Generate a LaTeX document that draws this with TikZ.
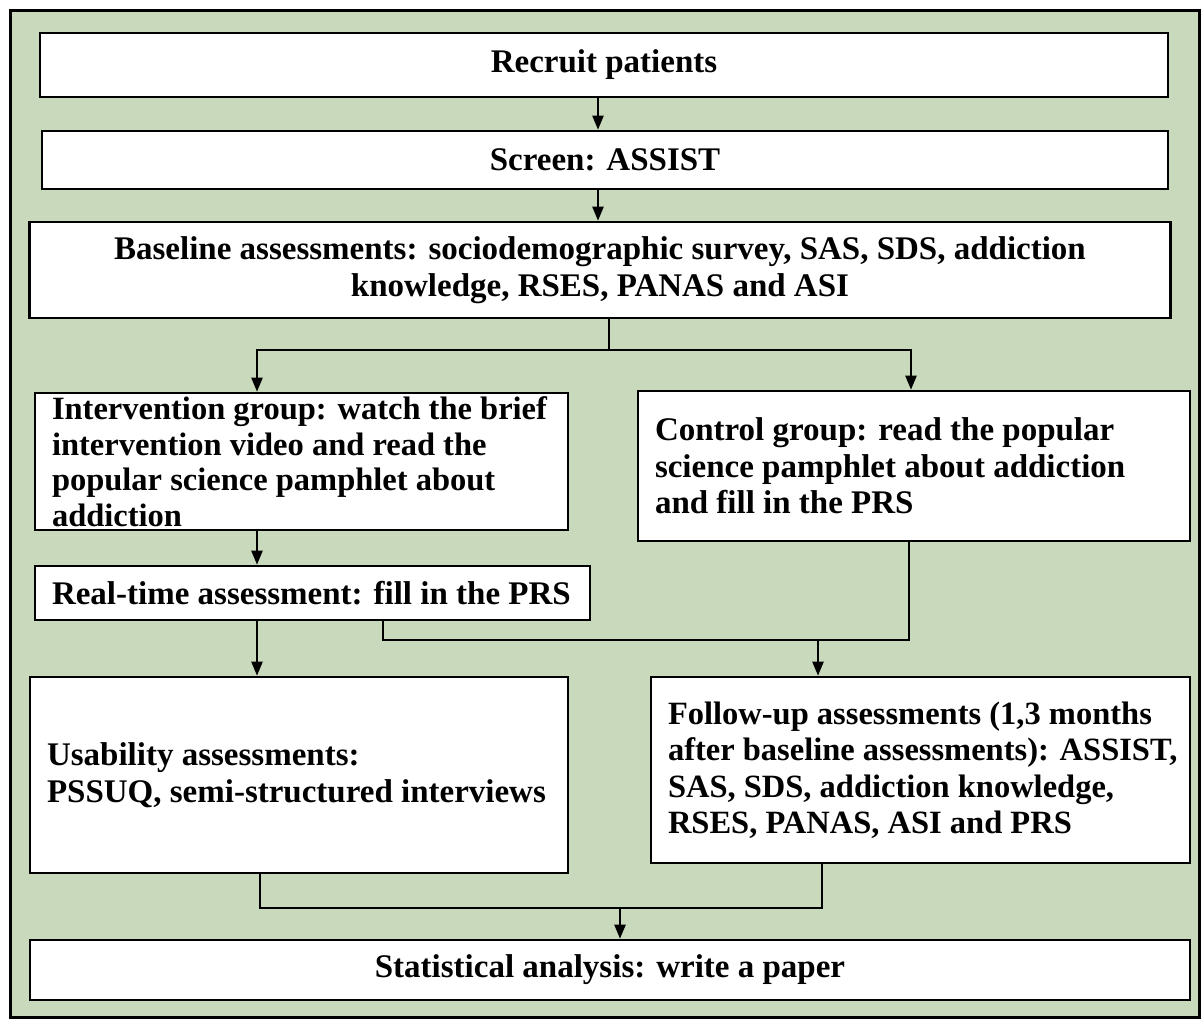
\documentclass[tikz,border=0pt]{standalone}
\usepackage{fontspec}
\setmainfont{Liberation Serif}
\usetikzlibrary{arrows.meta}
\definecolor{bggreen}{HTML}{C9D9BB}
\newcommand{\tline}[1]{\mbox{#1}}
\tikzset{
  box/.style={draw=black, line width=2.6pt, fill=white, inner sep=0pt, font=\bfseries\fontsize{33}{36.5}\selectfont},
  lbox/.style={box, align=left},
  cbox/.style={box, align=center},
  conn/.style={line width=2.2pt, line cap=rect},
  arr/.style={conn, -{Triangle[length=14pt,width=11pt]}, line cap=butt},
}
\begin{document}
\begin{tikzpicture}[x=1pt,y=-1pt]
\useasboundingbox (0,0) rectangle (1202,1021);
\draw[line width=3pt, fill=bggreen] (10,10) rectangle (1199,1017);

\node[cbox, minimum width=1128pt, minimum height=64pt] (recruit) at (604,65) {Recruit patients};
\node[cbox, minimum width=1126pt, minimum height=58pt] (screen) at (605,160) {Screen: ASSIST};
\node[cbox, minimum width=1141pt, minimum height=96pt] (baseline) at (600,270)
  {Baseline assessments: sociodemographic survey, SAS, SDS, addiction\\ knowledge, RSES, PANAS and ASI};
\node[lbox, minimum width=533pt, minimum height=137pt, font=\bfseries\fontsize{32.5}{35.5}\selectfont] (interv) at (301.5,461.5)
  {\parbox{499pt}{\tline{Intervention group: watch the brief}\\ \tline{intervention video and read the}\\ \tline{popular science pamphlet about}\\ \tline{addiction}}};
\node[lbox, minimum width=552pt, minimum height=150pt] (control) at (914,466)
  {\parbox{518pt}{\tline{Control group: read the popular}\\ \tline{science pamphlet about addiction}\\ \tline{and fill in the PRS}}};
\node[lbox, minimum width=555pt, minimum height=54pt] (realtime) at (312.5,593)
  {\parbox{521pt}{\tline{Real-time assessment: fill in the PRS}}};
\node[lbox, minimum width=538pt, minimum height=196pt] (usab) at (299,775)
  {\parbox{504pt}{\tline{Usability assessments:}\\ \tline{PSSUQ, semi-structured interviews}}};
\node[lbox, minimum width=539pt, minimum height=186pt, font=\bfseries\fontsize{32.5}{36.5}\selectfont] (follow) at (920.5,770)
  {\parbox{505pt}{\tline{Follow-up assessments (1,3 months}\\ \tline{after baseline assessments): ASSIST,}\\ \tline{SAS, SDS, addiction knowledge,}\\ \tline{RSES, PANAS, ASI and PRS}}};
\node[cbox, minimum width=1160pt, minimum height=60pt] (stat) at (610,970)
  {Statistical analysis: write a paper};

% top chain
\coordinate (a1) at (598,0);
\draw[arr] (recruit.south -| a1) -- (screen.north -| a1);
\draw[arr] (screen.south -| a1) -- (baseline.north -| a1);

% split to groups
\coordinate (s1) at (609,350);
\coordinate (il) at (257,350);
\coordinate (cr) at (911,350);
\draw[conn] (baseline.south -| s1) -- (s1);
\draw[conn] (il) -- (cr);
\draw[arr] (il) -- (interv.north -| il);
\draw[arr] (cr) -- (control.north -| cr);

% intervention -> realtime
\draw[arr] (interv.south -| il) -- (realtime.north -| il);
\draw[arr] (realtime.south -| il) -- (usab.north -| il);

% realtime & control -> follow-up
\coordinate (m1) at (383,640);
\coordinate (m2) at (909,640);
\coordinate (m3) at (818,640);
\draw[conn] (realtime.south -| m1) -- (m1) -- (m2) -- (control.south -| m2);
\draw[arr] (m3) -- (follow.north -| m3);

% to statistical
\coordinate (b1) at (260,908);
\coordinate (b2) at (822,908);
\coordinate (b3) at (620,908);
\draw[conn] (usab.south -| b1) -- (b1) -- (b2) -- (follow.south -| b2);
\draw[arr] (b3) -- (stat.north -| b3);
\end{tikzpicture}
\end{document}
